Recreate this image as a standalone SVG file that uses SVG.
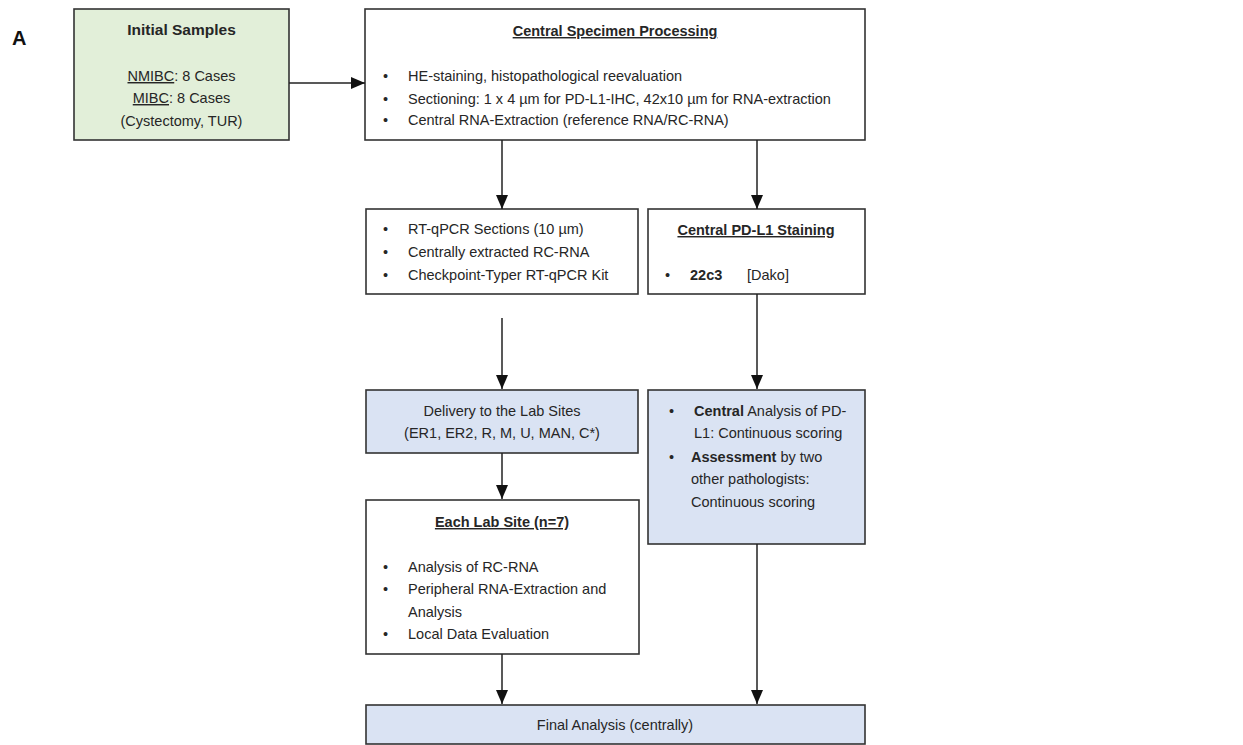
<svg xmlns="http://www.w3.org/2000/svg" width="1243" height="745" viewBox="0 0 1243 745">
<defs>
<marker id="arr" markerUnits="userSpaceOnUse" markerWidth="14" markerHeight="12" refX="14" refY="6" orient="auto">
<path d="M0,0 L14,6 L0,12 Z" fill="#111"/>
</marker>
<style>
.box{stroke:#333;stroke-width:1.6;fill:#fff}
.green{fill:#e2efd9}
.blue{fill:#dae3f3}
text{font-family:"Liberation Sans",Arial,sans-serif;font-size:14.5px;fill:#262626}
.c{text-anchor:middle}
.b{font-weight:bold}
.u{text-decoration:underline}
.conn line{stroke:#222;stroke-width:1.5;marker-end:url(#arr)}
</style>
</defs>
<rect width="1243" height="745" fill="#fff"/>
<text x="12" y="45" style="font-size:20px;font-weight:bold;fill:#111">A</text>

<g id="initial-samples">
<rect class="box green" x="74" y="9" width="215" height="131"/>
<text class="c b" x="181.5" y="35" style="font-size:15.5px">Initial Samples</text>
<text class="c" x="181.5" y="81"><tspan class="u">NMIBC</tspan>: 8 Cases</text>
<text class="c" x="181.5" y="103"><tspan class="u">MIBC</tspan>: 8 Cases</text>
<text class="c" x="181.5" y="126">(Cystectomy, TUR)</text>
</g>

<g id="central-processing">
<rect class="box" x="365" y="9" width="500" height="131"/>
<text class="c b u" x="615" y="36">Central Specimen Processing</text>
<text x="383" y="81">•</text><text x="408" y="81">HE-staining, histopathological reevaluation</text>
<text x="383" y="104">•</text><text x="408" y="104">Sectioning: 1 x 4 µm for PD-L1-IHC, 42x10 µm for RNA-extraction</text>
<text x="383" y="125">•</text><text x="408" y="125">Central RNA-Extraction (reference RNA/RC-RNA)</text>
</g>

<g id="rtqpcr">
<rect class="box" x="366" y="209" width="272" height="85"/>
<text x="383" y="234">•</text><text x="408" y="234">RT-qPCR Sections (10 µm)</text>
<text x="383" y="257">•</text><text x="408" y="257">Centrally extracted RC-RNA</text>
<text x="383" y="280">•</text><text x="408" y="280">Checkpoint-Typer RT-qPCR Kit</text>
</g>

<g id="pdl1-staining">
<rect class="box" x="648" y="209" width="217" height="85"/>
<text class="c b u" x="756" y="235">Central PD-L1 Staining</text>
<text x="665" y="280">•</text><text class="b" x="690" y="280">22c3</text><text x="747" y="280">[Dako]</text>
</g>

<g id="delivery">
<rect class="box blue" x="366" y="390" width="272" height="63"/>
<text class="c" x="502" y="416">Delivery to the Lab Sites</text>
<text class="c" x="502" y="438">(ER1, ER2, R, M, U, MAN,  C*)</text>
</g>

<g id="central-analysis">
<rect class="box blue" x="648" y="390" width="217" height="154"/>
<text x="669" y="416">•</text><text x="694" y="416"><tspan class="b">Central</tspan> Analysis of PD-</text>
<text x="694" y="438">L1: Continuous scoring</text>
<text x="669" y="462">•</text><text x="691" y="462"><tspan class="b">Assessment</tspan> by two</text>
<text x="691" y="484">other pathologists:</text>
<text x="691" y="507">Continuous scoring</text>
</g>

<g id="each-lab-site">
<rect class="box" x="366" y="500" width="273" height="154"/>
<text class="c b u" x="502" y="527">Each Lab Site (n=7)</text>
<text x="383" y="572">•</text><text x="408" y="572">Analysis of RC-RNA</text>
<text x="383" y="594">•</text><text x="408" y="594">Peripheral RNA-Extraction and</text>
<text x="408" y="617">Analysis</text>
<text x="383" y="639">•</text><text x="408" y="639">Local Data Evaluation</text>
</g>

<g id="final-analysis">
<rect class="box blue" x="366" y="705" width="499" height="39"/>
<text class="c" x="615" y="730">Final Analysis (centrally)</text>
</g>

<g class="conn" id="connectors">
<line x1="289" y1="83" x2="365" y2="83"/>
<line x1="502" y1="140" x2="502" y2="209"/>
<line x1="757" y1="140" x2="757" y2="209"/>
<line x1="502" y1="318" x2="502" y2="389"/>
<line x1="757" y1="294" x2="757" y2="389"/>
<line x1="502" y1="453" x2="502" y2="499"/>
<line x1="502" y1="654" x2="502" y2="704"/>
<line x1="757" y1="544" x2="757" y2="704"/>
</g>
</svg>
